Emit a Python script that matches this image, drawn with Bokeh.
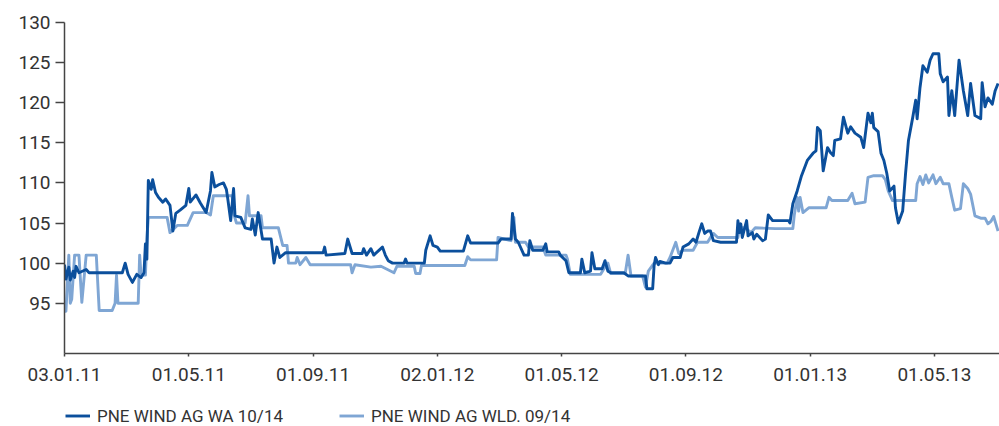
from bokeh.plotting import figure
from bokeh.layouts import column
from bokeh.models import FixedTicker, Range1d, Legend, LegendItem
from bokeh.embed import file_html
from bokeh.resources import INLINE

# x axis: trading-day index, evenly spaced date ticks
tick_days = [0, 86, 172, 258, 344, 430, 516, 602]
tick_labels = ["03.01.11", "01.05.11", "01.09.11", "02.01.12",
               "01.05.12", "01.09.12", "01.01.13", "01.05.13"]
y_ticks = [95, 100, 105, 110, 115, 120, 125, 130]

series_names = ["PNE WIND AG WA 10/14", "PNE WIND AG WLD. 09/14"]

# PNE WIND AG WA 10/14 (day index, value)
wa_points = [
    (0, 99.8), (1, 98.0), (3, 99.5), (4, 97.9), (6, 99.0), (7, 98.2), (8, 99.6), (10, 98.8),
    (15, 99.2), (17, 98.8), (40, 98.8), (42, 100.0), (44, 98.6), (47, 97.6), (50, 98.6),
    (53, 98.2), (55, 98.8), (56, 102.4), (57, 100.5), (58, 110.3), (60, 109.2), (61, 110.4),
    (63, 108.8), (65, 108.2), (68, 107.6), (70, 108.0), (73, 107.2), (75, 104.0), (77, 106.2),
    (80, 106.6), (84, 107.2), (86, 109.3), (87, 107.6), (91, 108.5), (94, 107.5), (98, 106.3),
    (101, 109.0), (102, 111.3), (104, 109.5), (107, 109.8), (110, 110.0), (112, 109.2),
    (113, 108.0), (115, 105.3), (117, 109.3), (118, 105.9), (122, 105.7), (125, 104.4),
    (129, 104.2), (130, 105.5), (132, 103.5), (134, 106.3), (137, 103.0), (143, 103.0),
    (145, 100.0), (146, 101.0), (147, 102.0), (149, 100.7), (153, 101.3), (179, 101.3),
    (180, 102.0), (181, 101.0), (194, 101.2), (196, 103.0), (199, 101.2), (206, 101.2),
    (207, 101.8), (209, 101.0), (212, 101.8), (214, 101.0), (220, 102.0), (222, 101.0),
    (224, 100.3), (227, 100.0), (235, 100.0), (236, 100.5), (237, 100.0), (249, 100.0),
    (250, 101.6), (253, 103.4), (255, 102.2), (258, 102.0), (260, 101.5), (276, 101.5),
    (279, 103.4), (281, 102.5), (300, 102.5), (302, 103.0), (309, 103.0), (310, 106.2),
    (312, 103.0), (314, 102.6), (318, 101.0), (321, 101.0), (322, 102.8), (324, 101.6),
    (331, 101.6), (333, 102.4), (334, 101.4), (342, 101.4), (343, 101.0), (347, 100.3),
    (349, 98.8), (357, 98.8), (358, 100.5), (360, 98.8), (364, 99.0), (365, 101.3),
    (367, 99.3), (372, 99.3), (374, 100.3), (376, 99.0), (378, 98.8), (387, 98.8),
    (390, 98.4), (402, 98.4), (403, 96.8), (407, 96.8), (408, 99.7), (409, 100.7),
    (411, 99.8), (412, 100.2), (416, 100.0), (419, 100.0), (421, 100.7), (426, 100.7),
    (428, 102.0), (432, 102.4), (435, 103.0), (437, 102.6), (439, 103.8), (441, 104.9),
    (443, 103.7), (445, 104.0), (447, 104.0), (449, 102.8), (454, 102.6), (465, 102.6),
    (466, 105.3), (467, 103.8), (468, 104.9), (469, 103.2), (472, 105.3), (473, 103.4),
    (476, 103.8), (477, 103.0), (479, 103.6), (483, 102.8), (485, 103.0), (487, 106.0),
    (490, 105.3), (501, 105.3), (502, 105.0), (504, 107.4), (507, 109.0), (510, 110.9),
    (514, 112.8), (518, 113.7), (520, 114.0), (521, 116.9), (523, 116.5), (525, 111.5),
    (528, 114.4), (530, 113.8), (532, 113.4), (533, 115.3), (537, 115.5), (539, 118.2),
    (542, 116.2), (544, 117.0), (547, 116.2), (551, 115.7), (553, 114.4), (556, 118.7),
    (558, 117.5), (559, 118.7), (560, 116.9), (563, 116.4), (565, 113.7), (567, 112.8),
    (569, 111.2), (571, 109.0), (574, 109.6), (575, 106.9), (577, 105.0), (580, 106.5),
    (582, 111.2), (584, 115.3), (587, 118.2), (589, 120.3), (590, 118.0), (592, 121.9),
    (594, 124.6), (597, 123.8), (599, 125.3), (601, 126.1), (605, 126.1), (606, 123.6),
    (608, 122.6), (611, 123.2), (612, 118.4), (614, 121.5), (616, 118.4), (619, 125.3),
    (622, 121.5), (625, 118.4), (627, 122.4), (630, 118.4), (634, 118.0), (635, 122.5),
    (637, 119.5), (639, 120.6), (642, 119.8), (644, 121.5), (646, 122.4),
]

# PNE WIND AG WLD. 09/14 (day index, value)
wld_points = [
    (0, 94.0), (1, 94.0), (3, 101.0), (4, 95.0), (5, 95.5), (7, 101.0), (10, 101.0),
    (11, 98.0), (12, 95.1), (15, 101.0), (22, 101.0), (24, 94.1), (33, 94.1), (35, 95.0),
    (36, 98.5), (37, 95.0), (51, 95.0), (52, 101.0), (53, 98.5), (56, 98.5), (57, 103.0),
    (58, 105.7), (71, 105.7), (73, 103.8), (78, 104.7), (85, 104.7), (89, 106.3),
    (98, 106.3), (101, 106.0), (103, 108.4), (116, 108.4), (117, 106.2), (119, 105.0),
    (125, 105.0), (127, 108.4), (128, 105.9), (136, 105.9), (137, 104.4), (148, 104.4),
    (151, 102.2), (154, 102.2), (155, 100.0), (160, 100.0), (161, 100.7), (163, 99.8),
    (167, 100.7), (170, 99.8), (198, 99.8), (199, 98.8), (201, 99.8), (212, 99.5),
    (219, 99.6), (228, 98.8), (230, 99.6), (242, 99.6), (243, 98.7), (246, 98.7),
    (247, 99.7), (277, 99.7), (279, 100.8), (281, 100.4), (299, 100.4), (300, 103.2),
    (309, 102.8), (311, 105.7), (312, 102.6), (319, 102.6), (321, 102.0), (331, 102.0),
    (333, 101.0), (347, 101.0), (348, 100.5), (350, 98.6), (371, 98.6), (374, 99.5),
    (376, 100.0), (378, 98.7), (388, 98.7), (390, 101.0), (392, 98.4), (400, 98.4),
    (402, 97.0), (404, 99.0), (408, 100.0), (417, 100.0), (419, 100.7), (423, 102.6),
    (425, 101.2), (428, 101.6), (435, 101.6), (438, 102.6), (445, 102.6), (447, 103.2),
    (449, 103.7), (452, 103.2), (466, 103.2), (467, 104.4), (471, 104.4), (475, 103.8),
    (478, 104.4), (492, 104.3), (504, 104.3), (505, 106.0), (507, 108.2), (508, 106.5),
    (509, 108.2), (511, 106.3), (515, 106.9), (527, 106.9), (529, 108.2), (531, 107.8),
    (542, 107.8), (545, 108.7), (547, 107.4), (554, 107.6), (556, 110.7), (560, 110.9),
    (566, 110.9), (568, 110.4), (570, 109.0), (573, 107.8), (589, 107.8), (590, 109.9),
    (592, 110.8), (594, 109.8), (596, 111.0), (598, 110.0), (601, 111.0), (603, 109.9),
    (606, 110.7), (608, 109.9), (612, 109.9), (614, 108.2), (616, 106.6), (620, 106.8),
    (622, 109.9), (625, 109.3), (627, 108.6), (630, 105.9), (634, 105.6), (637, 105.6),
    (639, 104.9), (641, 105.2), (643, 105.8), (646, 104.0),
]

wa_day = [d for d, v in wa_points]
wa_val = [v for d, v in wa_points]
wld_day = [d for d, v in wld_points]
wld_val = [v for d, v in wld_points]

DARK = "#0b4f9c"
LIGHT = "#7fa6d4"
AXIS = "#444444"
TEXT = "#333333"
FONT = "Roboto"
LW = 2.9

p = figure(frame_width=935, frame_height=331, output_backend="svg", toolbar_location=None,
           x_range=Range1d(0, 647), y_range=Range1d(88.73, 130),
           min_border_left=64, min_border_right=0, min_border_top=22, min_border_bottom=52)
p.outline_line_color = None
p.grid.visible = False
p.background_fill_color = "white"
p.border_fill_color = "white"

r_wld = p.line(wld_day, wld_val, line_color=LIGHT, line_width=LW, line_join="round")
r_wa = p.line(wa_day, wa_val, line_color=DARK, line_width=LW, line_join="round")

p.xaxis.ticker = FixedTicker(ticks=tick_days)
p.xaxis.major_label_overrides = {d: l for d, l in zip(tick_days, tick_labels)}
p.yaxis.ticker = FixedTicker(ticks=y_ticks)

for ax in (p.xaxis, p.yaxis):
    ax.axis_line_color = AXIS
    ax.axis_line_width = 1.5
    ax.major_tick_line_color = AXIS
    ax.major_tick_line_width = 1.5
    ax.minor_tick_line_color = None
    ax.major_tick_in = 0
    ax.major_label_text_font = FONT
    ax.major_label_text_font_size = "19px"
    ax.major_label_text_color = TEXT

p.yaxis.major_tick_out = 9
p.yaxis.major_label_standoff = 5
p.xaxis.major_tick_out = 3
p.xaxis.major_label_standoff = 11

# legend strip below the chart (same series, drawn out of view so only the key shows)
lg = figure(width=999, height=21, output_backend="svg", toolbar_location=None,
            x_range=Range1d(0, 647), y_range=Range1d(88.73, 130),
            x_axis_type=None, y_axis_type=None,
            min_border_left=0, min_border_right=0, min_border_top=0, min_border_bottom=0)
lg.outline_line_color = None
lg.grid.visible = False
k_wa = lg.line(wa_day, [v - 100 for v in wa_val], line_color=DARK, line_width=LW)
k_wld = lg.line(wld_day, [v - 100 for v in wld_val], line_color=LIGHT, line_width=LW)

legend = Legend(items=[LegendItem(label=series_names[0], renderers=[k_wa]),
                       LegendItem(label=series_names[1], renderers=[k_wld])],
                orientation="horizontal", location=(1, 0))
legend.border_line_color = None
legend.background_fill_alpha = 0
legend.label_text_font = FONT
legend.label_text_font_size = "17px"
legend.label_text_color = TEXT
legend.glyph_width = 25
legend.glyph_height = 21
legend.label_height = 21
legend.label_standoff = 7
legend.spacing = 56
legend.padding = 0
legend.margin = 0
lg.add_layout(legend, "center")

open("out.html", "w").write(file_html(column(p, lg), INLINE))
